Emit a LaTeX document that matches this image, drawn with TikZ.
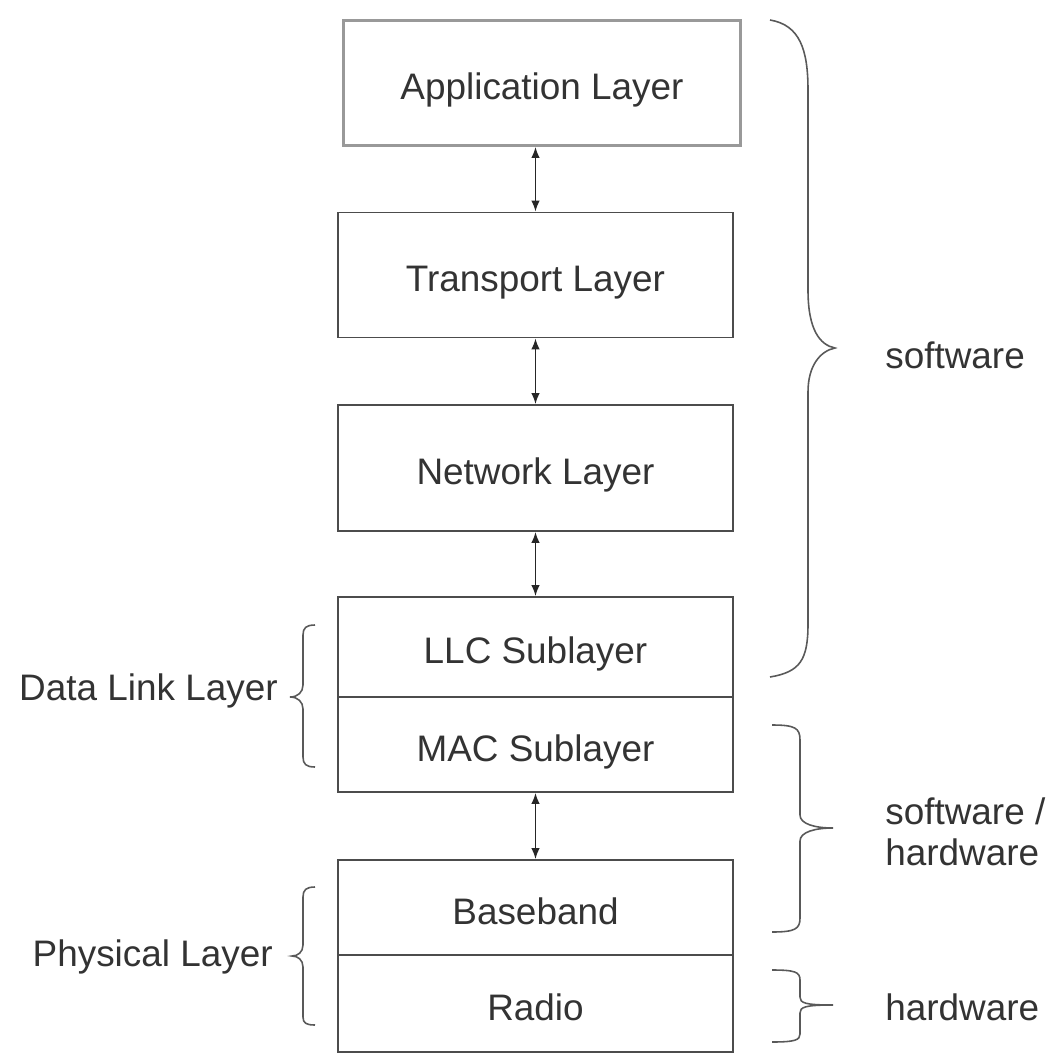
\documentclass[tikz,border=0pt]{standalone}
\usepackage{fontspec}
\setmainfont{Liberation Sans}
\usepackage{xcolor}
\usetikzlibrary{arrows.meta}

\begin{document}
\begin{tikzpicture}[x=0.02cm, y=0.02cm,
    layer/.style = {draw=black!70, line width=1pt, rectangle, minimum width=7.9cm, inner sep=0pt,
                    text height=23pt, text depth=4pt,
                    text=black!80, font=\fontsize{21}{27}\selectfont},
    lbl/.style = {inner sep=0pt, text=black!80, font=\fontsize{21}{27}\selectfont},
    link/.style = {<->, >={Latex[length=0.22cm, width=0.17cm]}, line width=1pt, black!85},
    grp/.style = {line width=0.9pt, black!65}]
    \useasboundingbox (0,0) rectangle (1048,-1055);

    % protocol stack
    \node[layer, draw=black!40, line width=1.6pt, minimum width=7.94cm, minimum height=2.5cm] (app) at (542,-83) {Application Layer};
    \node[layer, minimum height=2.5cm] (trans) at (535.5,-275) {Transport Layer};
    \node[layer, minimum height=2.52cm] (net) at (535.5,-468) {Network Layer};
    \node[layer, minimum height=2cm] (llc) at (535.5,-647) {LLC Sublayer};
    \node[layer, minimum height=1.9cm] (mac) at (535.5,-744.5) {MAC Sublayer};
    \node[layer, minimum height=1.9cm] (base) at (535.5,-907.5) {Baseband};
    \node[layer, minimum height=1.94cm] (radio) at (535.5,-1003.5) {Radio};

    \draw[link] (app.south -| trans.north) -- (trans.north);
    \draw[link] (trans.south) -- (net.north);
    \draw[link] (net.south) -- (llc.north);
    \draw[link] (mac.south) -- (base.north);

    % labels
    \node[lbl, anchor=west] (sw) at (885,-355) {software};
    \node[lbl, anchor=west, align=left, font=\fontsize{21}{23.5}\selectfont] (swhw) at (885,-832) {software /\\hardware};
    \node[lbl, anchor=west] (hw) at (885,-1007) {hardware};
    \node[lbl, anchor=east] (dll) at (278,-691) {Data Link Layer};
    \node[lbl, anchor=east] (phy) at (273,-957) {Physical Layer};

    % braces on the right
    \draw[grp] (770,-20) .. controls (800,-25) and (808,-50) .. (808,-90) -- (808,-290)
        .. controls (808,-330) and (820,-345) .. (835,-348)
        .. controls (820,-351) and (808,-366) .. (808,-392) -- (808,-624)
        .. controls (808,-660) and (800,-672) .. (770,-677);
    \draw[grp] (772,-725) .. controls (795,-725) and (800,-728) .. (800,-740) -- (800,-815)
        .. controls (800,-824) and (815,-828) .. (833,-828)
        .. controls (815,-828) and (800,-832) .. (800,-841) -- (800,-918)
        .. controls (800,-929) and (795,-932) .. (772,-932);
    \draw[grp] (772,-970) .. controls (795,-970) and (800,-972) .. (800,-980) -- (800,-997)
        .. controls (800,-1003) and (805,-1005) .. (833,-1005)
        .. controls (805,-1005) and (800,-1007) .. (800,-1013) -- (800,-1034)
        .. controls (800,-1040) and (795,-1042) .. (772,-1042);

    % braces on the left
    \draw[grp] (315,-625) .. controls (306,-625) and (303,-628) .. (303,-635) -- (303,-685)
        .. controls (303,-692) and (298,-697) .. (290,-697)
        .. controls (298,-697) and (303,-702) .. (303,-709) -- (303,-757)
        .. controls (303,-764) and (306,-767) .. (315,-767);
    \draw[grp] (315,-887) .. controls (306,-887) and (303,-890) .. (303,-897) -- (303,-945)
        .. controls (303,-952) and (298,-956) .. (292,-956)
        .. controls (298,-956) and (303,-960) .. (303,-967) -- (303,-1017)
        .. controls (303,-1023) and (306,-1025) .. (315,-1025);
\end{tikzpicture}
\end{document}
